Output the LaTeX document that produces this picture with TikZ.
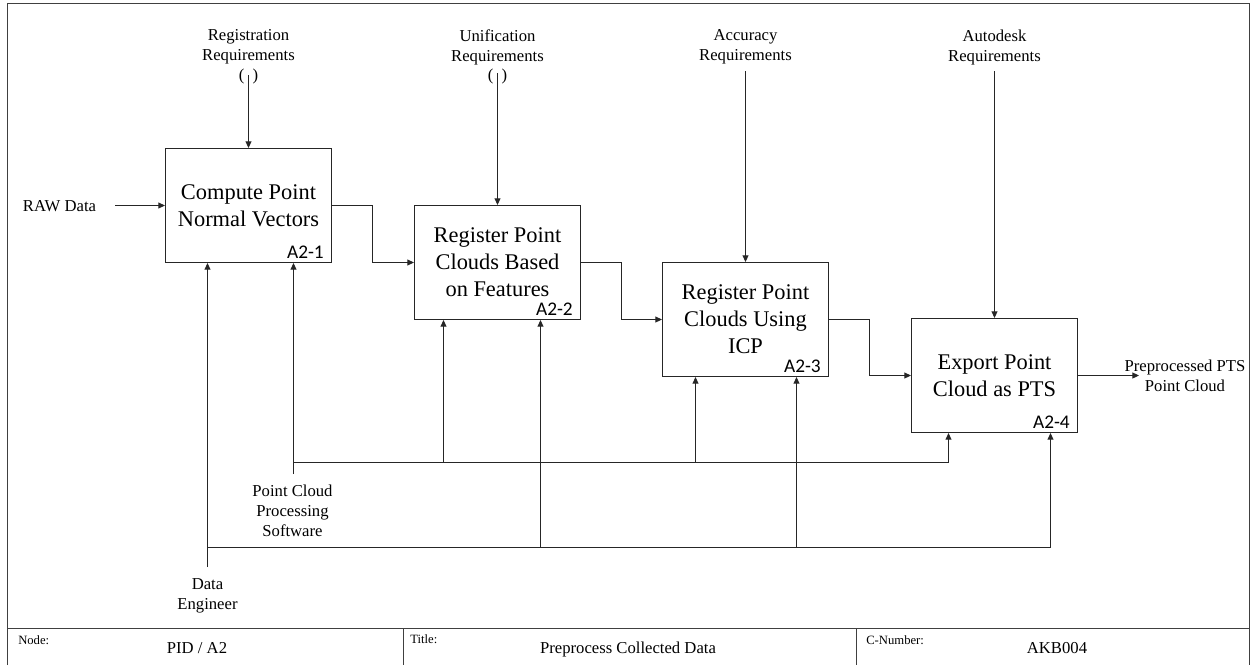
\documentclass[tikz,border=0pt]{standalone}
\usepackage{fontspec}
\setmainfont{Liberation Serif}
\newfontfamily\boxfont{Liberation Serif}
\newfontfamily\idxfont{Carlito}
\usetikzlibrary{arrows.meta}

\begin{document}
\begin{tikzpicture}[x=0.75pt,y=-0.75pt,
  wire/.style={line width=0.75pt, draw=black!85},
  flow/.style={wire, -{Triangle[length=5pt,width=4.5pt]}},
  frameline/.style={line width=0.9pt, draw=black!75},
  procbox/.style={draw=black!85, line width=0.8pt, minimum width=124.5pt,
    minimum height=85.5pt, inner sep=0pt, align=center,
    font=\boxfont\fontsize{16.8}{20.25}\selectfont},
  lbl/.style={inner sep=0pt, align=center, font=\rmfamily\fontsize{12.5}{15}\selectfont},
  idx/.style={inner sep=0pt, font=\idxfont\fontsize{14.5}{17}\selectfont},
  tiny/.style={inner sep=0pt, font=\rmfamily\fontsize{9.5}{11}\selectfont}]

\useasboundingbox (0,0) rectangle (1253,665);

% sheet frame and footer rules
\draw[frameline] (7.5,665) -- (7.5,3.5) -- (1249.5,3.5) -- (1249.5,665);
\draw[frameline] (7.5,628.5) -- (1249.5,628.5);
\draw[frameline] (403.5,628.5) -- (403.5,665);
\draw[frameline] (856.5,628.5) -- (856.5,665);

% activity boxes
\node[procbox] (b1) at (248.5,205.5) {Compute Point\\Normal Vectors};
\node[procbox] (b2) at (497.5,262.5) {Register Point\\Clouds Based\\on Features};
\node[procbox] (b3) at (745.5,319.5) {Register Point\\Clouds Using\\ICP};
\node[procbox] (b4) at (994.5,375.5) {Export Point\\Cloud as PTS};

\node[idx, anchor=base east, xshift=-6pt, yshift=3.75pt] (n1) at (b1.south east) {A2-1};
\node[idx, anchor=base east, xshift=-6pt, yshift=3.75pt] (n2) at (b2.south east) {A2-2};
\node[idx, anchor=base east, xshift=-6pt, yshift=3.75pt] (n3) at (b3.south east) {A2-3};
\node[idx, anchor=base east, xshift=-6pt, yshift=3.75pt] (n4) at (b4.south east) {A2-4};

% input
\node[lbl, anchor=base] (raw) at (59.5,211) {RAW Data};
\coordinate (rawtail) at (115,205.5);
\draw[flow] (rawtail) -- (b1.west);

% output
\node[lbl, anchor=north] (out) at (1185,359.3) {Preprocessed PTS\\Point Cloud};
\coordinate (outtip) at (1139,375.5);
\draw[flow] (b4.east) -- (outtip);

% box-to-box flows
\coordinate (j1) at (372.5,0);
\coordinate (j2) at (621.5,0);
\coordinate (j3) at (869.5,0);
\draw[flow] (b1.east) -| (j1 |- b1.east) |- (b2.west);
\draw[flow] (b2.east) -| (j2 |- b2.east) |- (b3.west);
\draw[flow] (b3.east) -| (j3 |- b3.east) |- (b4.west);

% controls
\node[lbl, anchor=north] (c1) at (248.5,29.6) {Registration\\Requirements};
\node[lbl, anchor=north] (c2) at (497.5,29.6) {Unification\\Requirements};
\node[lbl, anchor=north] (c3) at (745.5,29.6) {Accuracy\\Requirements};
\node[lbl, anchor=north] (c4) at (994.5,29.6) {Autodesk\\Requirements};
\node[lbl, anchor=base] (t1) at (248.5,80.3) {(\hspace{0.5em})};
\node[lbl, anchor=base] (t2) at (497.5,80.3) {(\hspace{0.5em})};
\coordinate (c1s) at (248.5,75);
\coordinate (c2s) at (497.5,73);
\coordinate (c3s) at (745.5,71);
\coordinate (c4s) at (994.5,71);
\draw[flow] (c1s) -- (b1.north);
\draw[flow] (c2s) -- (b2.north);
\draw[flow] (c3s) -- (b3.north);
\draw[flow] (c4s) -- (b4.north);

% mechanism: processing software
\node[lbl, anchor=north] (sw) at (292.5,484.6) {Point Cloud\\Processing\\Software};
\coordinate (swtail) at (293.5,474);
\coordinate (swbus)  at (293.5,462.5);
\coordinate (sw2)    at (443.5,462.5);
\coordinate (sw3)    at (695.5,462.5);
\coordinate (sw4)    at (948.5,462.5);
\draw[flow] (swtail) -- (swtail |- b1.south);
\draw[wire] (swbus) -- (sw4);
\draw[flow] (sw2) -- (sw2 |- b2.south);
\draw[flow] (sw3) -- (sw3 |- b3.south);
\draw[flow] (sw4) -- (sw4 |- b4.south);

% mechanism: data engineer
\node[lbl, anchor=north] (de) at (207.5,578) {Data\\Engineer};
\coordinate (detail) at (207.5,567);
\coordinate (debus)  at (207.5,547.5);
\coordinate (de2)    at (540.5,547.5);
\coordinate (de3)    at (796.5,547.5);
\coordinate (de4)    at (1050.5,547.5);
\draw[flow] (detail) -- (detail |- b1.south);
\draw[wire] (debus) -- (de4);
\draw[flow] (de2) -- (de2 |- b2.south);
\draw[flow] (de3) -- (de3 |- b3.south);
\draw[flow] (de4) -- (de4 |- b4.south);

% footer fields
\node[tiny, anchor=base west] (fnode)  at (18,644)  {Node:};
\node[tiny, anchor=base west] (ftitle) at (410,643) {Title:};
\node[tiny, anchor=base west] (fcnum)  at (866,644) {C-Number:};
\node[lbl, anchor=base] (vnode)  at (197,653)  {PID / A2};
\node[lbl, anchor=base] (vtitle) at (628,653)  {Preprocess Collected Data};
\node[lbl, anchor=base] (vcnum)  at (1057,653) {AKB004};

\end{tikzpicture}
\end{document}
